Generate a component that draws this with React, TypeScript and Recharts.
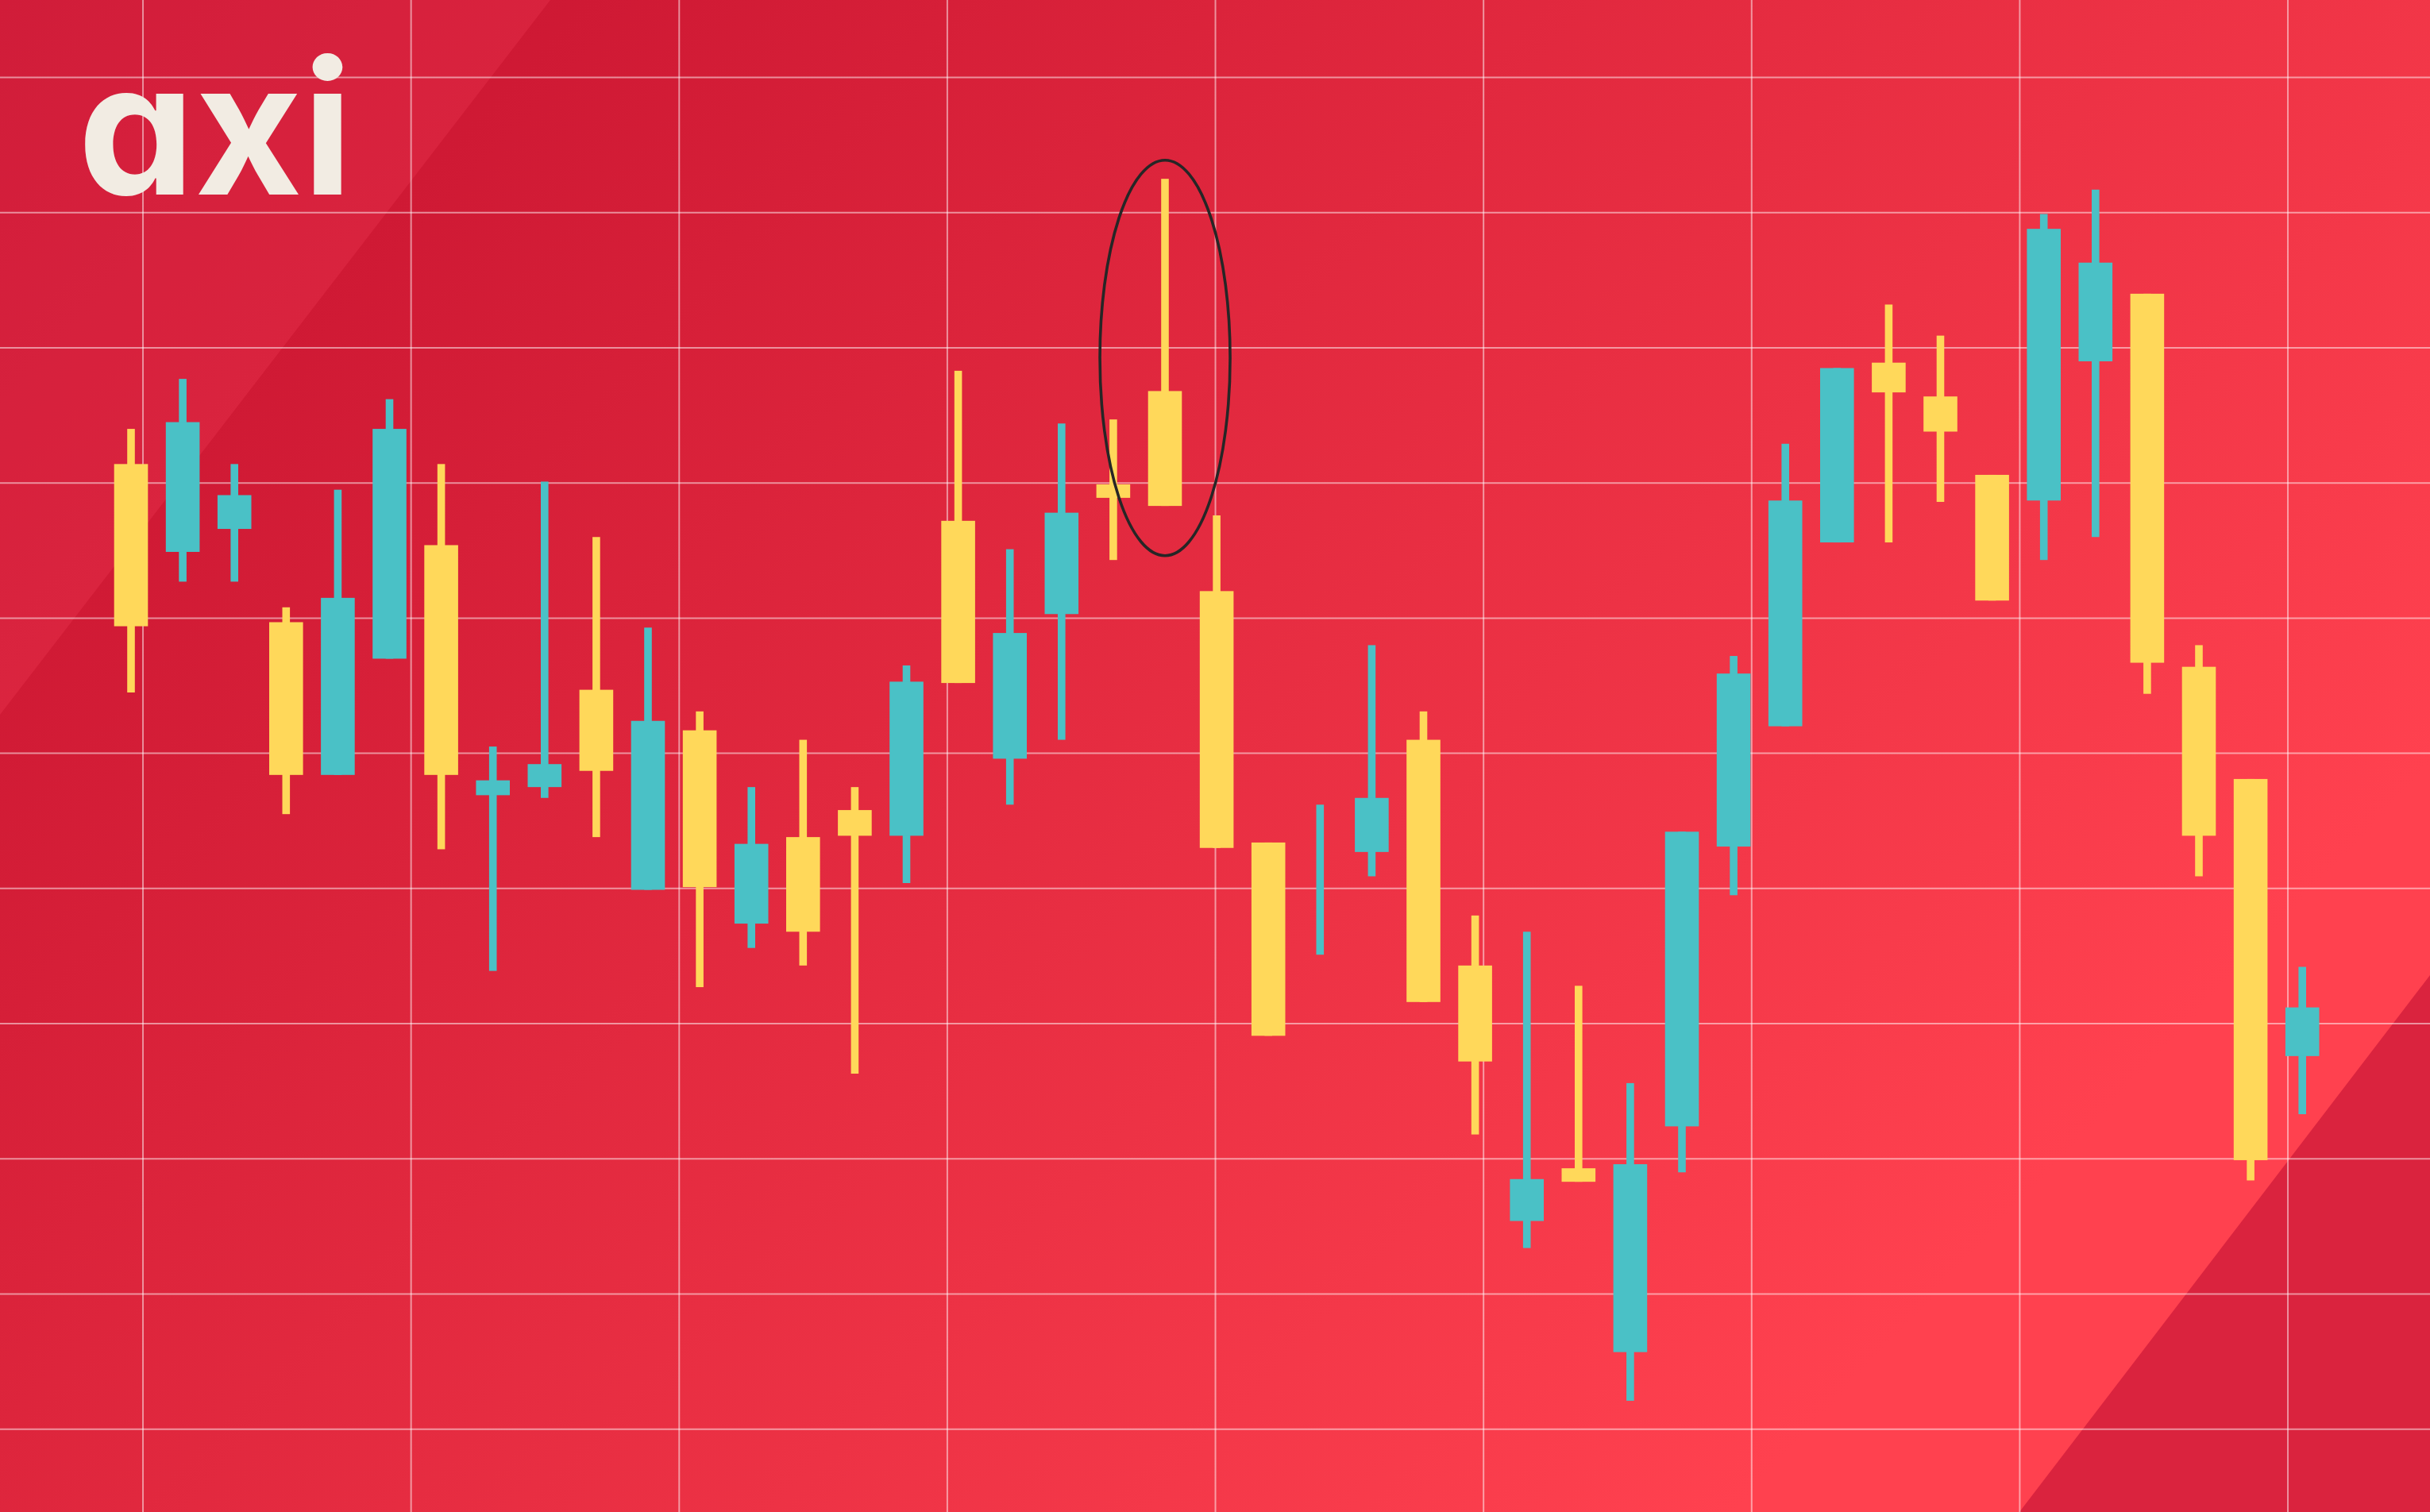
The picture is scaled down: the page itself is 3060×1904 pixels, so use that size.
import React from "react";
import { Bar, BarChart, CartesianGrid, ReferenceDot, XAxis, YAxis } from "recharts";

const W = 3060;
const H = 1904;

// price values (one grid step = 10)
const opens = [81.4, 74.9, 76.6, 69.7, 58.4, 67.0, 75.4, 56.9, 57.5, 64.7, 49.9, 61.7, 47.4, 53.8, 55.8, 53.9, 77.2, 59.6, 70.3, 79.9, 86.8, 72.0, 53.4, 50.6, 52.7, 61.0, 44.3, 25.4, 29.3, 15.7, 32.4, 53.1, 62.0, 75.6, 88.9, 86.4, 80.6, 78.7, 89.0, 94.0, 66.4, 58.1, 37.6];
const highs = [84.0, 87.7, 81.4, 70.8, 79.5, 86.2, 81.4, 60.5, 80.1, 76.0, 69.3, 63.1, 57.5, 61.0, 57.5, 66.5, 88.3, 75.1, 84.4, 84.7, 102.5, 77.6, 53.4, 56.2, 68.0, 63.1, 48.0, 46.8, 42.8, 35.6, 54.2, 67.2, 82.9, 88.5, 93.2, 90.9, 80.6, 99.9, 101.7, 94.0, 68.0, 58.1, 44.2];
const lows = [64.5, 72.7, 72.7, 55.5, 58.4, 67.0, 52.9, 43.9, 56.7, 53.8, 49.9, 42.7, 45.6, 44.3, 36.3, 50.4, 65.2, 56.2, 61.0, 74.3, 78.3, 53.0, 39.1, 45.1, 50.9, 41.6, 31.8, 23.4, 28.3, 12.1, 29.0, 49.5, 62.0, 75.6, 75.6, 78.6, 71.3, 74.3, 76.0, 64.4, 50.9, 28.4, 33.3];
const closes = [69.4, 84.5, 79.1, 58.4, 71.5, 84.0, 58.4, 58.0, 59.2, 58.7, 62.4, 50.1, 53.3, 46.8, 53.9, 65.3, 65.2, 68.9, 77.8, 78.9, 78.3, 53.0, 39.1, 50.6, 56.7, 41.6, 37.2, 28.5, 28.3, 29.6, 54.2, 65.9, 78.7, 88.5, 86.7, 83.8, 71.3, 98.8, 96.3, 66.7, 53.9, 29.9, 41.2];
const sessions = opens.map((_, i) => `S${i + 1}`);

const priceTicks = [10, 20, 30, 40, 50, 60, 70, 80, 90, 100, 110];
// vertical grid: one line every ~5.19 sessions (in session-index units)
const gridTicks = [0.23, 5.416, 10.602, 15.788, 20.974, 26.16, 31.346, 36.532, 41.718];

// the circled candle
const highlight = { session: "S21", price: 89.25 };

const UP = "#4AC1C6";
const DOWN = "#FFD85A";

const candles = sessions.map((session, i) => ({
  session,
  slot: i,
  open: opens[i],
  high: highs[i],
  low: lows[i],
  close: closes[i],
  range: [lows[i], highs[i]],
}));

function Candle(props: any) {
  const { x, y, width, height, payload } = props;
  if (!payload) return null;
  const top = height >= 0 ? y : y + height;
  const h = Math.abs(height);
  const span = payload.high - payload.low;
  const ppu = span > 0 ? h / span : 0;
  const cx = x + width / 2;
  const bodyTop = top + (payload.high - Math.max(payload.open, payload.close)) * ppu;
  const bodyH = Math.abs(payload.open - payload.close) * ppu;
  const color = payload.close >= payload.open ? UP : DOWN;
  const bodyW = 42.6;
  const wickW = 9.6;
  return (
    <g>
      <rect x={cx - wickW / 2} y={top} width={wickW} height={h} fill={color} />
      {bodyH > 0.5 && (
        <rect x={cx - bodyW / 2} y={bodyTop} width={bodyW} height={bodyH} fill={color} />
      )}
    </g>
  );
}

function Ring(props: any) {
  const { cx, cy } = props;
  if (cx == null || cy == null) return null;
  return <ellipse cx={cx} cy={cy} rx={82} ry={249} fill="none" stroke="#262626" strokeWidth={3.6} />;
}

export default function App() {
  return (
    <div style={{ position: "relative", width: W, height: H, overflow: "hidden" }}>
      <style>{"body{margin:0}"}</style>
      <svg width={W} height={H} style={{ position: "absolute", left: 0, top: 0 }}>
        <defs>
          <linearGradient id="bg" gradientUnits="userSpaceOnUse" x1="0" y1="0" x2="2116" y2="1975">
            <stop offset="0%" stopColor="#C4102E" />
            <stop offset="100%" stopColor="#FF414F" />
          </linearGradient>
        </defs>
        <rect width={W} height={H} fill="url(#bg)" />
        <polygon points="0,0 693,0 0,900" fill="#FF4A66" fillOpacity={0.22} />
        <polygon points={`2543,${H} ${W},1228 ${W},${H}`} fill="#DA233E" />
      </svg>
      <BarChart
        width={W}
        height={H}
        data={candles}
        margin={{ top: 0, right: 0, bottom: 0, left: 0 }}
        barCategoryGap={0}
        barGap={0}
        style={{ position: "absolute", left: 0, top: 0 }}
      >
        <XAxis dataKey="session" hide padding={{ left: 132.5, right: 128.2 }} />
        <XAxis
          xAxisId="grid"
          dataKey="slot"
          type="number"
          domain={[-2.5353, 44.467]}
          ticks={gridTicks}
          allowDataOverflow
          hide
        />
        <YAxis domain={[3.87, 115.73]} ticks={priceTicks} allowDataOverflow hide />
        <CartesianGrid xAxisId="grid" syncWithTicks stroke="rgba(255,255,255,0.5)" strokeWidth={2} />
        <Bar dataKey="range" shape={Candle} isAnimationActive={false} />
        <ReferenceDot x={highlight.session} y={highlight.price} shape={Ring} />
      </BarChart>
      <svg width={W} height={H} style={{ position: "absolute", left: 0, top: 0, pointerEvents: "none" }}>
        <text
          x={98}
          y={245}
          fontFamily="Inter"
          fontWeight={700}
          fontSize={232}
          fill="#F2ECE3"
          textLength={346}
          lengthAdjust="spacingAndGlyphs"
          style={{ fontFeatureSettings: '"cv11"' }}
        >
          axi
        </text>
      </svg>
    </div>
  );
}
